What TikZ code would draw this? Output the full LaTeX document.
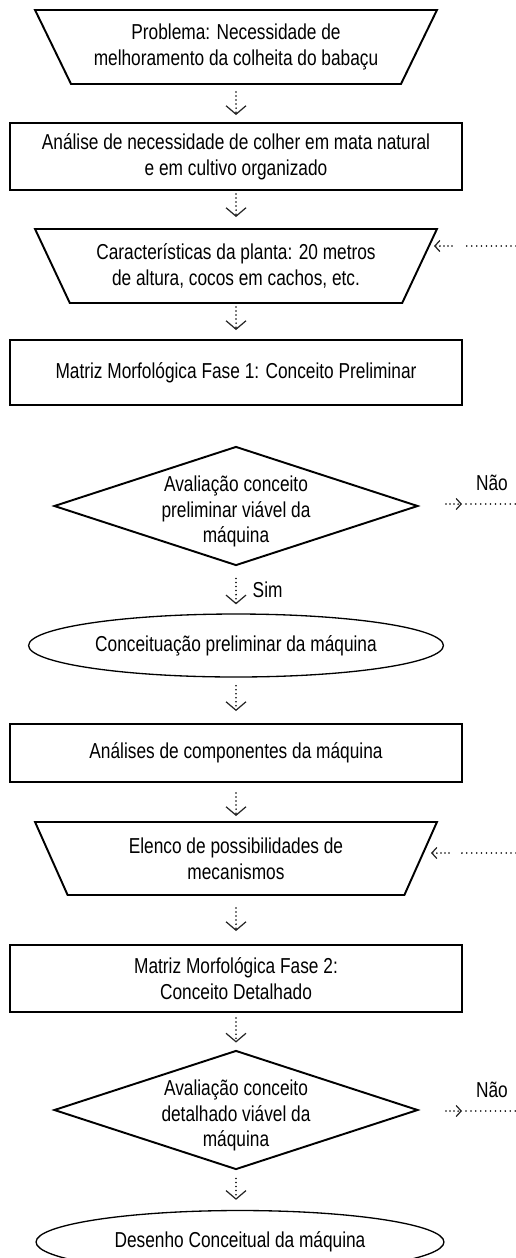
\documentclass[tikz,border=0pt]{standalone}
\usepackage{fontspec}
\setmainfont{Liberation Sans}[FakeStretch=0.8]
\usetikzlibrary{shapes.geometric,arrows.meta}

\begin{document}
\begin{tikzpicture}[x=0.02cm, y=-0.02cm,
    font=\fontsize{12.3pt}{14.7pt}\selectfont,
    box/.style={draw, line width=1.1pt, align=center, minimum width=9.04cm, inner sep=2pt},
    inbox/.style={trapezium, shape border rotate=180, trapezium angle=52, trapezium stretches body=true,
      draw, line width=1.1pt, align=center, minimum width=8.04cm, minimum height=1.48cm, inner sep=0pt},
    test/.style={diamond, draw, line width=1.1pt, align=center, aspect=3.06, inner sep=-10pt,
      text height=45pt, text depth=3pt, minimum width=7.28cm, minimum height=2.38cm},
    result/.style={ellipse, draw, line width=0.75pt, minimum width=8.16cm, minimum height=1.26cm},
    flow/.style={line width=1pt, line cap=round, dash pattern=on 0pt off 2.3pt,
      -{Straight Barb[length=0.17cm, width=0.4cm, line width=0.7pt, color=black!85]}},
    back/.style={line width=1pt, line cap=round, dash pattern=on 0pt off 2.3pt,
      -{Straight Barb[length=0.1cm, width=0.22cm, line width=0.7pt, color=black!85]}},
    trail/.style={line width=1pt, line cap=round, dash pattern=on 0pt off 2.8pt}]

  \clip (0,0) rectangle (516,1258);

  % Steps of the flow
  \node[inbox] (p1) at (236,47) {Problema: Necessidade de\\melhoramento da colheita do babaçu};
  \node[box, minimum height=1.34cm] (a2) at (236,156.5) {Análise de necessidade de colher em mata natural\\e em cultivo organizado};
  \node[inbox] (c3) at (236,266) {Características da planta: 20 metros\\de altura, cocos em cachos, etc.};
  \node[box, minimum height=1.3cm] (m4) at (236,372.5) {Matriz Morfológica Fase 1: Conceito Preliminar};
  \node[test] (d5) at (236,506) {Avaliação conceito\\preliminar viável da\\máquina};
  \node[result] (e6) at (236,645.5) {Conceituação preliminar da máquina};
  \node[box, minimum height=1.16cm] (a7) at (236,753) {Análises de componentes da máquina};
  \node[inbox, minimum height=1.46cm] (l8) at (236,858.5) {Elenco de possibilidades de\\mecanismos};
  \node[box, minimum height=1.34cm] (m9) at (236,978.5) {Matriz Morfológica Fase 2:\\Conceito Detalhado};
  \node[test] (d10) at (236,1110) {Avaliação conceito\\detalhado viável da\\máquina};
  \node[result] (e11) at (240,1242) {Desenho Conceitual da máquina};

  % Dotted arrows down the column
  \draw[flow, shorten <=0.14cm, shorten >=0.14cm] (p1) -- (a2);
  \draw[flow, shorten <=0.06cm, shorten >=0.22cm] (a2) -- (c3);
  \draw[flow, shorten <=0.06cm, shorten >=0.18cm] (c3) -- (m4);
  \draw[flow, shorten <=0.24cm, shorten >=0.18cm] (d5) -- (e6) node[midway, right=0.2cm] {Sim};
  \draw[flow, shorten <=0.16cm, shorten >=0.24cm] (e6) -- (a7);
  \draw[flow, shorten <=0.2cm, shorten >=0.1cm] (a7) -- (l8);
  \draw[flow, shorten <=0.24cm, shorten >=0.26cm] (l8) -- (m9);
  \draw[flow, shorten <=0.1cm, shorten >=0.14cm] (m9) -- (d10);
  \draw[flow, shorten <=0.16cm, shorten >=0.2cm] (d10.south) -- (d10.south |- e11.north);

  % Feedback coming in from the right
  \coordinate (c3in) at (452,246);
  \coordinate (c3tip) at (434,246);
  \coordinate (c3near) at (463,246);
  \coordinate (c3far) at (516,246);
  \draw[back] (c3in) -- (c3tip);
  \draw[trail] (c3far) -- (c3near);

  \coordinate (l8in) at (449,853);
  \coordinate (l8tip) at (431,853);
  \coordinate (l8near) at (459,853);
  \coordinate (l8far) at (516,853);
  \draw[back] (l8in) -- (l8tip);
  \draw[trail] (l8far) -- (l8near);

  % Not viable: out to the right
  \coordinate (d5out) at (446,504);
  \coordinate (d5tip) at (462,504);
  \coordinate (d5near) at (466,504);
  \coordinate (d5far) at (516,504);
  \draw[back] (d5out) -- (d5tip);
  \draw[trail] (d5near) -- (d5far);
  \node (n5) at (492,483) {Não};

  \coordinate (d10out) at (446,1111);
  \coordinate (d10tip) at (462,1111);
  \coordinate (d10near) at (466,1111);
  \coordinate (d10far) at (516,1111);
  \draw[back] (d10out) -- (d10tip);
  \draw[trail] (d10near) -- (d10far);
  \node (n10) at (492,1090) {Não};
\end{tikzpicture}
\end{document}
